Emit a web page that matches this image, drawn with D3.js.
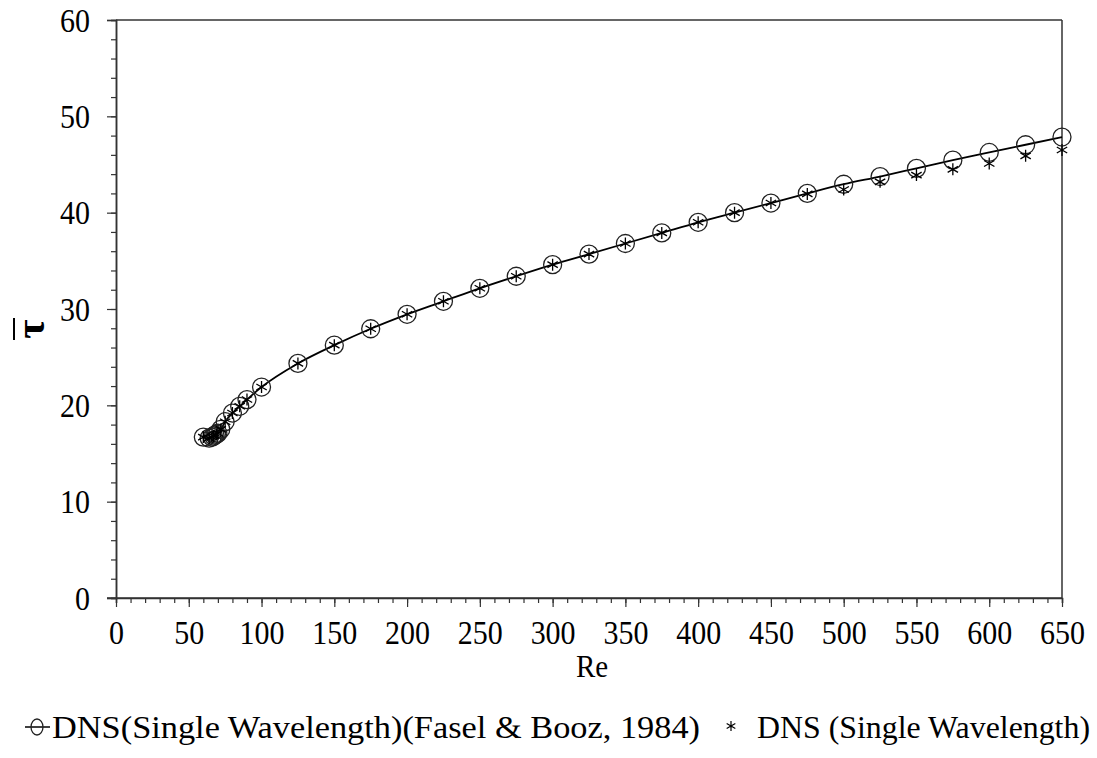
<script src="https://cdn.jsdelivr.net/npm/d3@7"></script>
<style>
  body { margin: 0; background: #fff; }
  svg text { font-family: "Liberation Serif", "Times New Roman", serif; }
</style>
<svg width="1097" height="758"></svg>
<script>
  // Fasel & Booz (1984) single wavelength - circles with line
  var reFasel = [60, 64, 66, 67, 68, 69, 70, 72, 75, 80, 85, 90, 100, 125, 150, 175, 200, 225, 250, 275, 300, 325, 350, 375, 400, 425, 450, 475, 500, 525, 550, 575, 600, 625, 650];
  var tauFasel = [16.7, 16.6, 16.7, 16.8, 16.9, 17.0, 17.1, 17.5, 18.3, 19.2, 19.9, 20.6, 21.9, 24.35, 26.25, 27.95, 29.45, 30.8, 32.15, 33.4, 34.6, 35.7, 36.8, 37.9, 39.0, 40.0, 41.0, 42.0, 42.95, 43.75, 44.6, 45.45, 46.25, 47.05, 47.85];

  // DNS single wavelength - asterisks
  var reDNS = [60, 64, 66, 67, 68, 69, 70, 72, 75, 80, 85, 90, 100, 125, 150, 175, 200, 225, 250, 275, 300, 325, 350, 375, 400, 425, 450, 475, 500, 525, 550, 575, 600, 625, 650];
  var tauDNS = [16.7, 16.6, 16.7, 16.8, 16.9, 17.0, 17.1, 17.5, 18.3, 19.2, 19.9, 20.6, 21.9, 24.35, 26.25, 27.95, 29.45, 30.8, 32.15, 33.4, 34.6, 35.7, 36.8, 37.9, 39.0, 40.0, 41.0, 41.95, 42.4, 43.2, 43.9, 44.5, 45.1, 45.9, 46.5];

  var xTicks = [0, 50, 100, 150, 200, 250, 300, 350, 400, 450, 500, 550, 600, 650];
  var yTicks = [0, 10, 20, 30, 40, 50, 60];
  var seriesNames = ["DNS(Single Wavelength)(Fasel & Booz, 1984)", "DNS (Single Wavelength)"];

  var mLeft = 116, mRight = 1062, mTop = 20, mBottom = 598;
  var svg = d3.select("svg");
  var x = d3.scaleLinear().domain([0, 650]).range([mLeft, mRight]);
  var y = d3.scaleLinear().domain([0, 60]).range([mBottom, mTop]);

  var fasel = reFasel.map(function(r, i) { return [r, tauFasel[i]]; });
  var dns = reDNS.map(function(r, i) { return [r, tauDNS[i]]; });

  // frame (top + right)
  svg.append("line").attr("x1", mLeft).attr("x2", mRight).attr("y1", mTop).attr("y2", mTop)
    .style("stroke", "#333").style("stroke-width", 1.5);
  svg.append("line").attr("x1", mRight).attr("x2", mRight).attr("y1", mTop).attr("y2", mBottom)
    .style("stroke", "#333").style("stroke-width", 1.5);

  // minor ticks
  var xMinor = svg.append("g").attr("transform", "translate(0," + mBottom + ")")
    .call(d3.axisBottom(x).tickValues(d3.range(0, 651, 10)).tickSize(5).tickFormat(""));
  var yMinor = svg.append("g").attr("transform", "translate(" + mLeft + ",0)")
    .call(d3.axisLeft(y).tickValues(d3.range(0, 61, 2)).tickSize(5).tickFormat(""));

  // major ticks
  var xAxis = svg.append("g").attr("transform", "translate(0," + mBottom + ")")
    .call(d3.axisBottom(x).tickValues(xTicks).tickSize(9).tickFormat(d3.format("d")));
  var yAxis = svg.append("g").attr("transform", "translate(" + mLeft + ",0)")
    .call(d3.axisLeft(y).tickValues(yTicks).tickSize(9).tickFormat(d3.format("d")));

  [xMinor, yMinor, xAxis, yAxis].forEach(function(a) {
    a.selectAll(".domain").style("stroke", "#333").style("stroke-width", 1.5);
    a.selectAll(".tick line").style("stroke", "#333").style("stroke-width", 1.2);
    a.selectAll("text").style("font-family", "'Liberation Serif', 'Times New Roman', serif").style("font-size", "30px").style("fill", "#000");
  });
  xAxis.select(".domain").attr("d", "M" + (mLeft - 9) + ",0H" + mRight);

  // labels are a bit taller than wide in the original
  xAxis.selectAll(".tick text")
    .attr("y", 0).attr("dy", null)
    .attr("transform", "translate(0,46) scale(1,1.12)");
  yAxis.selectAll(".tick text")
    .attr("x", 0).attr("dy", null)
    .attr("transform", "translate(-26,11) scale(1,1.12)");

  // axis titles
  svg.append("text")
    .attr("transform", "translate(" + ((mLeft + mRight) / 2 + 3) + ",677) scale(1,1.12)")
    .attr("text-anchor", "middle")
    .style("font-size", "29px")
    .text("Re");

  var yTitle = svg.append("g").attr("transform", "translate(44, 329) rotate(-90)");
  yTitle.append("text")
    .attr("x", 0)
    .attr("y", 0)
    .attr("text-anchor", "middle")
    .style("font-size", "42px")
    .style("font-weight", "bold")
    .text("τ");
  yTitle.append("line")
    .attr("x1", -11).attr("x2", 11).attr("y1", -30).attr("y2", -30)
    .style("stroke", "#000").style("stroke-width", 2);

  // line through circles
  var curve = d3.line()
    .x(function(d) { return x(d[0]); })
    .y(function(d) { return y(d[1]); })
    .curve(d3.curveMonotoneX);

  svg.append("path")
    .datum(fasel)
    .attr("d", curve)
    .style("fill", "none")
    .style("stroke", "#000")
    .style("stroke-width", 1.8);

  svg.append("g")
    .selectAll("circle")
    .data(fasel)
    .enter()
    .append("circle")
    .attr("cx", function(d) { return x(d[0]); })
    .attr("cy", function(d) { return y(d[1]); })
    .attr("r", 9)
    .style("fill", "none")
    .style("stroke", "#222")
    .style("stroke-width", 1.3);

  // asterisk: vertical + two diagonals
  function starPath(s) {
    var a = s * Math.cos(Math.PI / 6), b = s * Math.sin(Math.PI / 6);
    return "M0," + (-s) + "V" + s +
      "M" + (-a) + "," + (-b) + "L" + a + "," + b +
      "M" + (-a) + "," + b + "L" + a + "," + (-b);
  }

  svg.append("g")
    .selectAll("path")
    .data(dns)
    .enter()
    .append("path")
    .attr("transform", function(d) { return "translate(" + x(d[0]) + "," + y(d[1]) + ")"; })
    .attr("d", starPath(6))
    .style("fill", "none")
    .style("stroke", "#000")
    .style("stroke-width", 1.3);

  // legend
  var ly = 727;
  svg.append("line").attr("x1", 25).attr("x2", 50).attr("y1", ly).attr("y2", ly)
    .style("stroke", "#000").style("stroke-width", 1.5);
  svg.append("ellipse").attr("cx", 37).attr("cy", ly).attr("rx", 6).attr("ry", 8)
    .style("fill", "none").style("stroke", "#222").style("stroke-width", 1.3);
  svg.append("text").attr("x", 52).attr("y", ly + 11)
    .style("font-size", "32px")
    .attr("textLength", 648).attr("lengthAdjust", "spacingAndGlyphs")
    .text(seriesNames[0]);

  svg.append("path").attr("transform", "translate(731," + (ly - 1) + ")")
    .attr("d", starPath(5))
    .style("fill", "none").style("stroke", "#000").style("stroke-width", 1.2);
  svg.append("text").attr("x", 757).attr("y", ly + 11)
    .style("font-size", "32px")
    .attr("textLength", 333).attr("lengthAdjust", "spacingAndGlyphs")
    .text(seriesNames[1]);
</script>
